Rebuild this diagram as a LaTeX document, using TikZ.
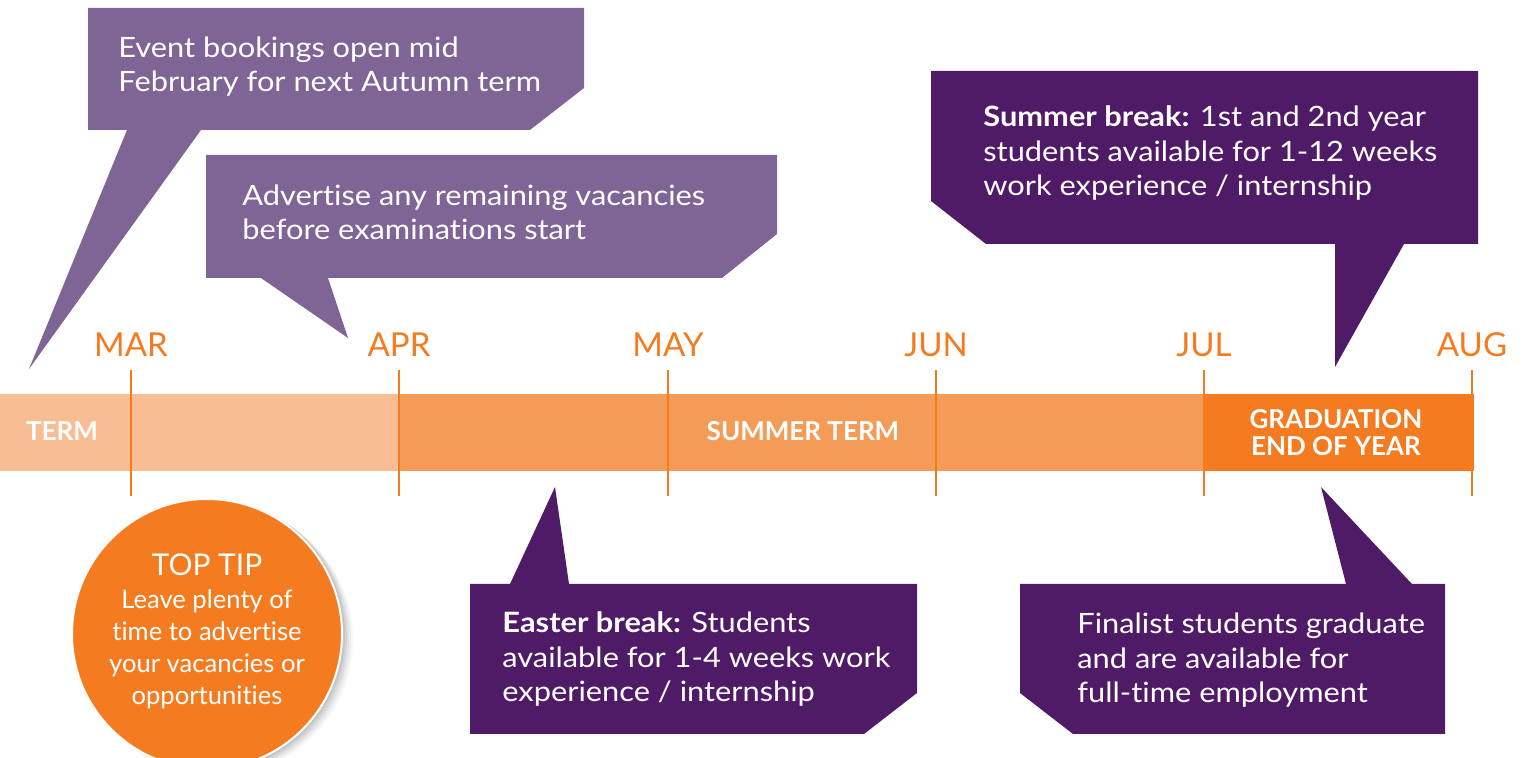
\documentclass[tikz,border=0pt]{standalone}
\usepackage{fontspec}
\setmainfont{Lato}[Ligatures={NoCommon}]
\newfontfamily\widefont{Lato}[FakeStretch=1.1, Ligatures={NoCommon}]
\definecolor{lpurple}{HTML}{7F6496}
\definecolor{dpurple}{HTML}{501B66}
\definecolor{orng}{HTML}{F47B20}
\definecolor{morng}{HTML}{F59B58}
\definecolor{lorng}{HTML}{F9BD93}
\begin{document}
\begin{tikzpicture}[x=0.5pt,y=-0.5pt,
  calltext/.style={text=white, anchor=base west, align=left, inner sep=0pt, font=\widefont\fontsize{14}{17.25}\selectfont},
  month/.style={text=orng, anchor=base, inner sep=0pt, font=\fontsize{16.5}{20}\selectfont},
  barlabel/.style={text=white, anchor=base, align=center, inner sep=0pt, font=\bfseries\fontsize{13}{13.25}\selectfont},
  tickline/.style={draw=orng, line width=1.2pt},
  tiptext/.style={text=white, anchor=base, align=center, inner sep=0pt, font=\fontsize{12.8}{16}\selectfont}]
\useasboundingbox (0,0) rectangle (1523,758);
\clip (0,0) rectangle (1523,758);
% callouts
\fill[lpurple] (88,8) -- (584,8) -- (584,88) -- (530,130) -- (201,130) -- (29,369) -- (127,130) -- (88,130) -- cycle;
\fill[lpurple] (206,155) -- (777,155) -- (777,234) -- (722,278) -- (328,278) -- (348,338) -- (261,278) -- (206,278) -- cycle;
\fill[dpurple] (931,71) -- (1478,71) -- (1478,244) -- (1404,244) -- (1335,367) -- (1335,244) -- (986,244) -- (931,201) -- cycle;
\fill[dpurple] (470,584) -- (510,584) -- (555,487) -- (569,584) -- (917,584) -- (917,693) -- (864,734) -- (470,734) -- cycle;
\fill[dpurple] (1020,584) -- (1346,584) -- (1321,487) -- (1412,584) -- (1445,584) -- (1445,734) -- (1073,734) -- (1020,693) -- cycle;
\node[calltext] (t1) at (118,92) {Event bookings open mid\\February for next Autumn term};
\node[calltext] (t2) at (242,240) {Advertise any remaining vacancies\\before examinations start};
\node[calltext] (t3) at (983,196) {\textbf{Summer break:} 1st and 2nd year\\students available for 1-12 weeks\\work experience / internship};
\node[calltext] (t4) at (502,702) {\textbf{Easter break:} Students\\available for 1-4 weeks work\\experience / internship};
\node[calltext] (t5) at (1077,703) {Finalist students graduate\\and are available for\\full-time employment};
% bar
\fill[lorng] (0,394) rectangle (399,471);
\fill[morng] (399,394) rectangle (1204,471);
\fill[orng] (1204,394) rectangle (1474,471);
\foreach \x/\m in {131/MAR,399/APR,668/MAY,936/JUN,1204/JUL,1472/AUG}{
  \draw[tickline] (\x,370) -- (\x,496);
  \node[month] (m\m) at (\x,357) {\m};
}
\node[barlabel] (term) at (62,441) {TERM};
\node[barlabel] (summer) at (803,441) {SUMMER TERM};
\node[barlabel] (grad) at (1336,455.5) {GRADUATION\\END OF YEAR};
% top tip
\foreach \o/\op in {10/0.03,8/0.04,6/0.05,4/0.06,2/0.07}{
  \fill[black,opacity=\op] (207+\o,634+0.6*\o) circle [radius=136];
}
\fill[orng, draw=white, line width=1pt] (207,634) circle [radius=135];
\node[tiptext, font=\fontsize{15}{18}\selectfont] (tip) at (207,576) {TOP TIP};
\node[tiptext] (tipbody) at (207,705) {Leave plenty of\\time to advertise\\your vacancies or\\opportunities};
\end{tikzpicture}
\end{document}
